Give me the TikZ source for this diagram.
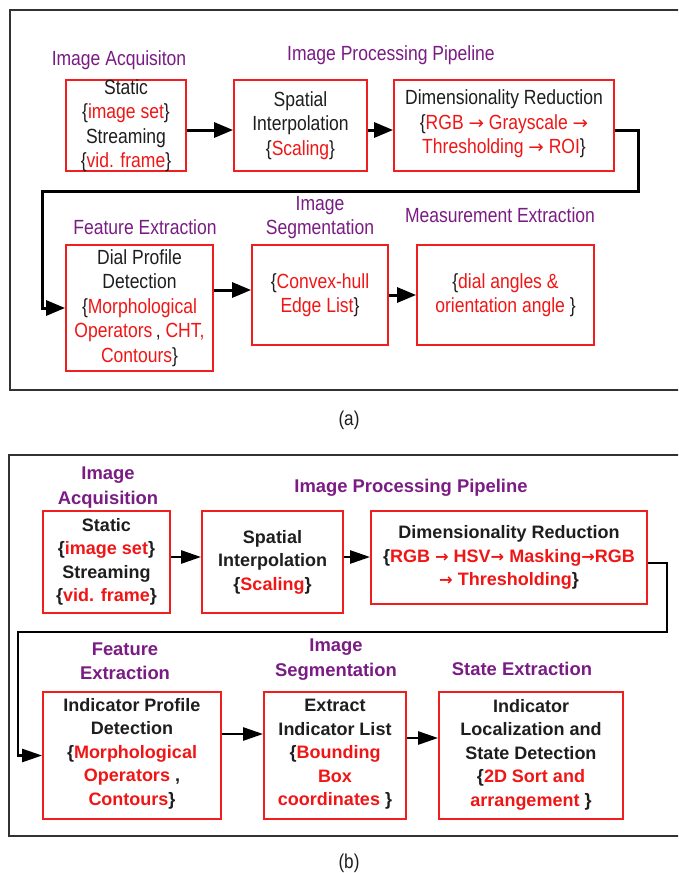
\documentclass[tikz,border=0pt]{standalone}
\usepackage{fontspec}
\usetikzlibrary{arrows.meta}
\newfontfamily\thinsans[FakeStretch=0.855]{Liberation Sans}
\newfontfamily\plainsans{Liberation Sans}
\newfontfamily\arrowsans{DejaVu Sans}
\definecolor{inkred}{RGB}{240,22,22}
\definecolor{boxred}{RGB}{240,30,30}
\definecolor{headpurple}{RGB}{122,28,132}
\definecolor{inkdark}{RGB}{30,30,30}
\definecolor{framegray}{RGB}{50,50,50}
\newcommand\redpart[1]{\textcolor{inkred}{#1}}
% right arrow glyph taken from DejaVu Sans (keeps the current weight)
\newcommand\rarr{{\arrowsans\fontsize{0.9\dimexpr\csname f@size\endcsname pt\relax}{0}\selectfont →}}
\begin{document}
\begin{tikzpicture}[x=1pt,y=-1pt,
  stagebox/.style 2 args={draw=boxred, line width=1.8pt, minimum width=#1, minimum height=#2, inner sep=0pt},
  toptext/.style={font=\thinsans\fontsize{20.5}{24.5}\selectfont, text=inkdark, align=center, inner sep=0pt},
  bottext/.style={font=\plainsans\bfseries\fontsize{18}{23.5}\selectfont, text=inkdark, align=center, inner sep=0pt},
  tophead/.style={toptext, text=headpurple},
  bothead/.style={font=\plainsans\bfseries\fontsize{18.4}{24.5}\selectfont, text=headpurple, align=center, inner sep=0pt},
  frame/.style={draw=framegray, line width=2pt},
  conna/.style={draw=black, line width=3pt, -{Triangle[length=19pt,width=15pt]}},
  connb/.style={draw=black, line width=2.5pt, -{Triangle[length=20pt,width=13pt]}},
  caption/.style={font=\thinsans\fontsize{20}{24}\selectfont, text=inkdark, inner sep=0pt}
]
\useasboundingbox (0,0) rectangle (678,873);
\clip (0,0) rectangle (678,873);
\fill[white] (0,0) rectangle (678,873);

% ---------- panel (a) ----------
\draw[frame] (9.5,10) rectangle (700,390);

\node[tophead] (ha1) at (119,60) {Image Acquisiton};
\node[tophead] (ha2) at (391,55) {Image Processing Pipeline};
\node[tophead] (ha4) at (145,227) {Feature Extraction};
\node[tophead] (ha5) at (320,217.5) {Image\\Segmentation};
\node[tophead] (ha6) at (500,215) {Measurement Extraction};

\node[stagebox={120pt}{91pt}]  (a1) at (126,125.5) {};
\node[stagebox={133pt}{91pt}]  (a2) at (300.5,125.5) {};
\node[stagebox={220pt}{91pt}]  (a3) at (504,125.5) {};
\node[stagebox={147pt}{126pt}] (a4) at (139.5,308) {};
\node[stagebox={136pt}{100pt}] (a5) at (320,295) {};
\node[stagebox={177pt}{100pt}] (a6) at (505.5,295) {};

\node[toptext] (a1t) at (a1) {Static\\\{\redpart{image set}\}\\Streaming\\\{\redpart{vid. frame}\}};
\node[toptext] (a2t) at (a2) {Spatial\\Interpolation\\\{\redpart{Scaling}\}};
\node[toptext] (a3t) at ([yshift=1.5pt]a3.center) {Dimensionality Reduction\\\{\redpart{RGB \rarr{} Grayscale \rarr}\\\redpart{Thresholding \rarr{} ROI}\}};
\node[toptext] (a4t) at (a4) {Dial Profile\\Detection\\\{\redpart{Morphological}\\\redpart{Operators}\,, \redpart{CHT,}\\\redpart{Contours}\}};
\node[toptext] (a5t) at (a5) {\{\redpart{Convex-hull}\\\redpart{Edge List}\}};
\node[toptext] (a6t) at (a6) {\{\redpart{dial angles \&}\\\redpart{orientation angle} \}};

\coordinate (ta1) at (638,191);
\coordinate (ta2) at (42,191);
\draw[conna] ([yshift=-4.5pt]a1.east) -- ([yshift=-4.5pt]a2.west);
\draw[conna] ([yshift=-4.5pt]a2.east) -- ([yshift=-4.5pt]a3.west);
\draw[conna] ([yshift=-4.5pt]a3.east) -| (ta1) -- (ta2) |- (a4.west);
\draw[conna] ([yshift=5pt]a5.west -| a4.east) -- ([yshift=5pt]a5.west);
\draw[conna] (a5.east) -- (a6.west);

\node[caption] (capa) at (349,420) {(a)};

% ---------- panel (b) ----------
\draw[frame] (9,455) rectangle (700,836);

\node[bothead] (hb1) at (108,487.5) {Image\\Acquisition};
\node[bothead] (hb2) at (411,488) {Image Processing Pipeline};
\node[bothead] (hb4) at (125,661.5) {Feature\\Extraction};
\node[bothead] (hb5) at (336,659.5) {Image\\Segmentation};
\node[bothead] (hb6) at (522,669) {State Extraction};

\node[stagebox={127pt}{102pt}] (b1) at (106.5,562) {};
\node[stagebox={141pt}{102pt}] (b2) at (272.5,562) {};
\node[stagebox={276pt}{93pt}]  (b3) at (509,557.5) {};
\node[stagebox={178pt}{127pt}] (b4) at (132,755.5) {};
\node[stagebox={142pt}{127pt}] (b5) at (335,755.5) {};
\node[stagebox={184pt}{127pt}] (b6) at (531,755.5) {};

\node[bottext] (b1t) at (b1) {Static\\\{\redpart{image set}\}\\Streaming\\\{\redpart{vid. frame}\}};
\node[bottext] (b2t) at (b2) {Spatial\\Interpolation\\\{\redpart{Scaling}\}};
\node[bottext] (b3t) at (b3) {Dimensionality Reduction\\\{\redpart{RGB \rarr{} HSV\rarr{} Masking\rarr RGB}\\\redpart{\rarr{} Thresholding}\}};
\node[bottext] (b4t) at ([yshift=2pt]b4.center) {Indicator Profile\\Detection\\\{\redpart{Morphological}\\\redpart{Operators} ,\\\redpart{Contours}\}};
\node[bottext] (b5t) at ([yshift=1pt]b5.center) {Extract\\Indicator List\\\{\redpart{Bounding}\\\redpart{Box}\\\redpart{coordinates} \}};
\node[bottext] (b6t) at ([yshift=1pt]b6.center) {Indicator\\Localization and\\State Detection\\\{\redpart{2D Sort and}\\\redpart{arrangement} \}};

\coordinate (tb1) at (667,632);
\coordinate (tb2) at (18,632);
\draw[connb] ([yshift=5pt]b1.east) -- ([yshift=5pt]b1.east -| b2.west);
\draw[connb] ([yshift=5pt]b2.east) -- ([yshift=5pt]b2.east -| b3.west);
\draw[connb] ([yshift=-5.5pt]b3.east) -| (tb1) -- (tb2) |- (b4.west);
\draw[connb] ([yshift=21.5pt]b4.east) -- ([yshift=21.5pt]b5.west);
\draw[connb] ([yshift=17.5pt]b5.east) -- ([yshift=17.5pt]b6.west);

\node[caption] (capb) at (349,863) {(b)};
\end{tikzpicture}
\end{document}
